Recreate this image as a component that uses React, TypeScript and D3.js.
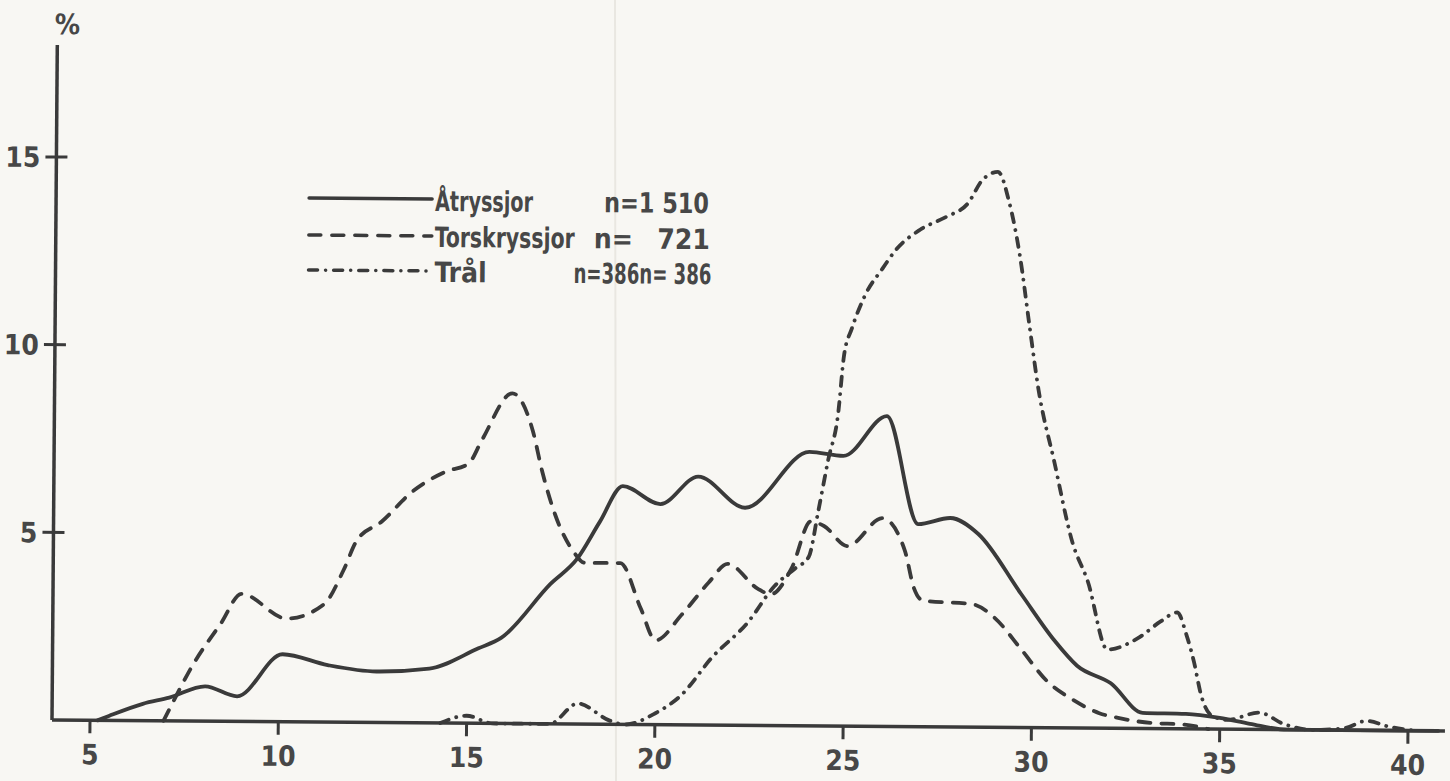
import React, { useLayoutEffect, useRef, useState } from "react";
import * as d3 from "d3";

// Length classes (cm) on the x axis, share of catch (%) on the y axis
const xTicks = [5, 10, 15, 20, 25, 30, 35, 40];
const yTicks = [5, 10, 15];

// [length, percent]
const atryssjor: [number, number][] = [
  [5.2, 0], [5.5, 0.12], [6.4, 0.45], [7.1, 0.62], [8.05, 0.93], [8.9, 0.67],
  [10.1, 1.8], [11.3, 1.52], [12.6, 1.36], [14.0, 1.45], [15.3, 2.0], [15.9, 2.28],
  [17.2, 3.73], [17.9, 4.4], [18.5, 5.4], [19.1, 6.35], [20.1, 5.88], [21.1, 6.62],
  [22.35, 5.8], [24.05, 7.3], [24.95, 7.2], [26.1, 8.27], [26.95, 5.4], [27.8, 5.57],
  [28.55, 5.15], [29.7, 3.56], [30.6, 2.32], [31.2, 1.66], [32.1, 1.2], [32.95, 0.42],
  [34.1, 0.4], [35.0, 0.3], [35.8, 0.15], [36.8, 0], [40.8, 0],
];

const torskryssjor: [number, number][] = [
  [6.95, 0], [7.05, 0.2], [7.75, 1.55], [8.45, 2.6], [9.0, 3.4], [10.2, 2.75],
  [11.2, 3.15], [11.7, 4.05], [12.05, 4.85], [12.7, 5.35], [13.5, 6.15], [14.4, 6.7],
  [15.0, 6.92], [15.35, 7.55], [16.15, 8.8], [16.7, 7.8], [16.95, 6.75], [17.3, 5.6],
  [17.8, 4.6], [18.1, 4.3], [19.05, 4.3], [19.6, 3.1], [20.0, 2.25], [20.7, 2.95],
  [21.4, 3.8], [21.9, 4.3], [22.7, 3.65], [23.05, 3.5], [23.6, 4.2], [24.1, 5.45],
  [24.45, 5.33], [25.08, 4.8], [26.0, 5.55], [26.6, 4.7], [26.85, 3.7], [27.1, 3.36],
  [28.4, 3.28], [29.0, 2.92], [29.7, 2.1], [30.4, 1.25], [31.1, 0.75], [31.8, 0.4],
  [32.3, 0.28], [33.2, 0.15], [34.0, 0.12], [34.7, 0],
];

const tral: [number, number][] = [
  [14.3, 0], [15.0, 0.2], [15.7, 0], [17.2, 0], [17.95, 0.55], [18.8, 0.1], [19.2, 0],
  [20.0, 0.3], [20.7, 0.8], [21.5, 1.8], [22.45, 2.75], [23.15, 3.72], [23.7, 4.2],
  [24.05, 4.5], [24.3, 5.75], [24.55, 7.1], [24.8, 8.3], [24.95, 9.9], [25.15, 10.6],
  [25.5, 11.5], [25.95, 12.2], [26.3, 12.7], [26.95, 13.25], [27.65, 13.6], [28.2, 13.95],
  [28.6, 14.6], [29.0, 14.8], [29.3, 14.0], [29.6, 12.55], [29.86, 10.75], [30.12, 9.0],
  [30.55, 7.1], [31.05, 4.95], [31.47, 3.9], [32.0, 2.1], [32.8, 2.4], [33.4, 2.85],
  [33.85, 3.1], [34.1, 2.5], [34.3, 1.8], [34.5, 0.9], [34.8, 0.35], [35.2, 0.25],
  [36.05, 0.45], [36.7, 0.15], [37.5, 0], [38.3, 0.05], [38.9, 0.25], [39.5, 0.1], [40.2, 0],
];

const legendNames = ["Åtryssjor", "Torskryssjor", "Trål"];
const legendCounts = ["n=1 510", "n= 721", "n=386n= 386"];

const INK = "#3a3a3a";
const TEXT = "#474747";
const FONT = "'Liberation Sans Narrow', 'DejaVu Sans Condensed', 'Liberation Sans', sans-serif";

const DASH = "12 11";
const DASHDOT = "9 8 0.1 8";

const textProps = { fontFamily: FONT, fontWeight: "bold" as const, fontSize: 28, fill: TEXT };

// Text squeezed horizontally (never stretched) so it spans at most `width` pixels
function FitText({ x, y, width, children }: { x: number; y: number; width: number; children: string }) {
  const ref = useRef<SVGTextElement>(null);
  const [sx, setSx] = useState(1);
  useLayoutEffect(() => {
    if (!ref.current) return;
    const natural = ref.current.getComputedTextLength();
    if (natural > 0) setSx(Math.min(1, width / natural));
  }, [width, children]);
  return (
    <g transform={`translate(${x},${y}) scale(${sx},1)`}>
      <text ref={ref} x={0} y={0} {...textProps}>
        {children}
      </text>
    </g>
  );
}

export default function App() {
  const W = 1450;
  const H = 781;
  const x = d3.scaleLinear().domain([5, 40]).range([90, 1408]);
  const y = d3.scaleLinear().domain([0, 15]).range([720, 157]);
  const line = d3
    .line<[number, number]>()
    .x((d) => x(d[0]))
    .y((d) => y(d[1]))
    .curve(d3.curveMonotoneX);

  const series = [
    { data: atryssjor, dash: undefined as string | undefined },
    { data: torskryssjor, dash: DASH },
    { data: tral, dash: DASHDOT },
  ];

  const legendRows = [
    { yLine: 196, yText: 208, nameLen: 98, countX: 600, countLen: 105 },
    { yLine: 233, yText: 244, nameLen: 140, countX: 586, countLen: 119 },
    { yLine: 268, yText: 279, nameLen: 63, countX: 570, countLen: 138 },
  ];
  const countEnd = 706;

  const axisX = 52;

  return (
    <div style={{ position: "absolute", left: 0, top: 0, width: W, height: H }}>
      <svg width={W} height={H} style={{ display: "block" }}>
        <rect width={W} height={H} fill="#f8f7f3" />
        <line x1={615} y1={0} x2={616} y2={H} stroke="#e9e7e1" strokeWidth={2} />
        <g transform={`rotate(0.45 ${axisX} 720)`}>
          {/* axes */}
          <line x1={axisX} y1={45} x2={axisX} y2={y(0)} stroke={INK} strokeWidth={3.5} />
          <line x1={axisX} y1={y(0)} x2={1445} y2={y(0)} stroke={INK} strokeWidth={3.5} />
          <text x={axisX + 10} y={34} textAnchor="middle" {...textProps}>
            %
          </text>
          {yTicks.map((t) => (
            <g key={t}>
              <line x1={axisX - 11} x2={axisX + 11} y1={y(t)} y2={y(t)} stroke={INK} strokeWidth={3} />
              <text x={axisX - 16} y={y(t)} dy="0.36em" textAnchor="end" {...textProps}>
                {t}
              </text>
            </g>
          ))}
          {xTicks.map((t) => (
            <g key={t}>
              <line x1={x(t)} x2={x(t)} y1={y(0)} y2={y(0) + 13} stroke={INK} strokeWidth={3} />
              <text x={x(t)} y={764} textAnchor="middle" {...textProps}>
                {t}
              </text>
            </g>
          ))}

          {/* distribution curves */}
          {series.map((s, i) => (
            <path
              key={i}
              d={line(s.data) || ""}
              fill="none"
              stroke={INK}
              strokeWidth={3.8}
              strokeDasharray={s.dash}
              strokeLinecap="round"
              strokeLinejoin="round"
            />
          ))}

          {/* legend */}
          {legendRows.map((r, i) => {
            const count = legendCounts[i];
            // a count written as "n= 721" keeps the wide gap after the equals sign
            const split = /^n=\s+\d+$/.test(count) ? count.split(/\s+/) : null;
            return (
              <g key={i}>
                <line
                  x1={305}
                  x2={428}
                  y1={r.yLine}
                  y2={r.yLine}
                  stroke={INK}
                  strokeWidth={3.5}
                  strokeDasharray={series[i].dash}
                  strokeLinecap="round"
                />
                <FitText x={431} y={r.yText} width={r.nameLen}>
                  {legendNames[i]}
                </FitText>
                {split ? (
                  <>
                    <text x={r.countX + 4} y={r.yText} {...textProps}>
                      {split[0]}
                    </text>
                    <text x={countEnd} y={r.yText} textAnchor="end" {...textProps}>
                      {split[1]}
                    </text>
                  </>
                ) : (
                  <FitText x={r.countX} y={r.yText} width={r.countLen}>
                    {count}
                  </FitText>
                )}
              </g>
            );
          })}
        </g>
      </svg>
    </div>
  );
}
